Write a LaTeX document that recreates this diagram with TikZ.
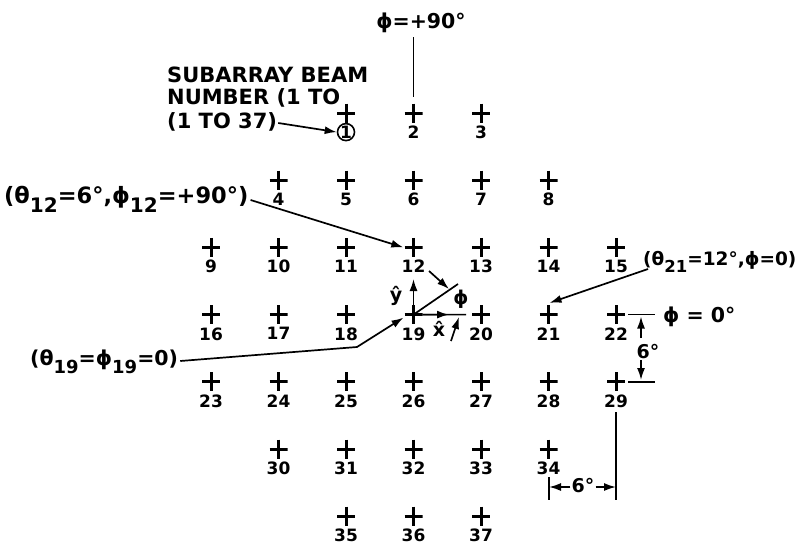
\documentclass[tikz,border=0pt]{standalone}
\usepackage{fontspec}
\setmainfont{DejaVu Sans}
\usetikzlibrary{arrows.meta,calc}
\newcommand\lo[2][18]{\raisebox{-0.42em}{\fontsize{#1}{#1}\selectfont #2}}
\begin{document}
\begin{tikzpicture}[x=1pt,y=-1pt,
  cross/.style={minimum width=18pt,minimum height=19pt,inner sep=0pt,
    path picture={\draw[line width=3pt] (path picture bounding box.north)--(path picture bounding box.south)
      (path picture bounding box.west)--(path picture bounding box.east);}},
  num/.style={font=\fontsize{17}{17}\selectfont\bfseries,inner sep=0pt},
  lab/.style={font=\fontsize{20.5}{20.5}\selectfont\bfseries,inner sep=1pt},
  big/.style={font=\fontsize{21}{21}\selectfont\bfseries,inner sep=1pt,anchor=base west},
  sm/.style={font=\fontsize{19}{19}\selectfont\bfseries,inner sep=1pt},
  ld/.style={line width=1.7pt},
  arr/.style={ld,-{Latex[length=12pt,width=8pt]}}]
\useasboundingbox[fill=white] (0,0) rectangle (800,546);

% grid of beam positions
\foreach \n/\c/\r in {1/3/1,2/4/1,3/5/1,
  4/2/2,5/3/2,6/4/2,7/5/2,8/6/2,
  9/1/3,10/2/3,11/3/3,12/4/3,13/5/3,14/6/3,15/7/3,
  16/1/4,17/2/4,18/3/4,19/4/4,20/5/4,21/6/4,22/7/4,
  23/1/5,24/2/5,25/3/5,26/4/5,27/5/5,28/6/5,29/7/5,
  30/2/6,31/3/6,32/4/6,33/5/6,34/6/6,
  35/3/7,36/4/7,37/5/7}{
  \node[cross] (c\n) at ({211+(\c-1)*67.5},{113+(\r-1)*67.2}) {};
  \node[num,anchor=north] (l\n) at ([yshift=-3pt]c\n.south) {\n};
}
\node[circle,draw,line width=1.6pt,minimum size=17pt,inner sep=0pt] (ring) at (l1) {};

% subarray label
\node[big] (sub1) at (166,82) {SUBARRAY BEAM};
\node[big] (sub2) at (166,104) {NUMBER (1 TO};
\node[big] (sub3) at (166,128) {(1 TO 37)};
\draw[arr] ([yshift=5pt]sub3.base east) -- (ring.west);

% phi = +90
\node[lab,anchor=base] (p90) at (421,28) {ϕ=+90°};
\draw[ld] (p90.south -| c2) ++(0,4) -- ([yshift=6pt]c2.north);

% theta12 label
\node[lab,font=\fontsize{22.5}{22.5}\selectfont\bfseries,anchor=base west] (t12) at (3,203) {(θ\lo[20]{12}=6°,ϕ\lo[20]{12}=+90°)};
\draw[arr] ([xshift=1pt,yshift=3pt]t12.base east) -- ([xshift=-1pt]c12.west);

% theta21 label
\node[lab,font=\fontsize{18.5}{18.5}\selectfont\bfseries,anchor=base west] (t21) at (642,265) {(θ\lo[16.5]{21}=12°,ϕ=0)};
\draw[arr] ([xshift=6pt,yshift=-4pt]t21.base west) -- ([xshift=1pt,yshift=2pt]c21.north);

% theta19 label
\node[lab,anchor=base west] (t19) at (29,365) {(θ\lo{19}=ϕ\lo{19}=0)};
\coordinate (bend19) at (357,347);
\draw[arr] ([xshift=1pt,yshift=4pt]t19.base east) -- (bend19) -- ([xshift=-10pt,yshift=-3pt]c19.center);

% local axes at beam 19
\coordinate (dg) at (458,284);
\draw[ld] (c19.center) -- (dg);
\coordinate (xe) at (466,314.6);
\draw[ld] (c19.east) -- (xe);
\coordinate (xt) at (449,314.6);
\draw[arr] (c19.east) -- (xt);
\coordinate (yt) at (413.5,279);
\draw[arr] (c19.north) -- (yt);
\node[sm,anchor=base] (yh) at (396,301) {\^{y}};
\node[sm,anchor=base] (xh) at (439,336) {\^{x}};
\node[sm] (ph) at (461,299) {ϕ};
\coordinate (a1s) at (429,271); \coordinate (a1e) at (449,289);
\draw[arr] (a1s) -- (a1e);
\coordinate (a2s) at (451,341); \coordinate (a2e) at (459,317);
\draw[arr] (a2s) -- (a2e);

% vertical 6 degree dimension
\coordinate (tk1) at (628,314.6); \coordinate (tk1e) at (655,314.6);
\coordinate (tk2) at (628,381.8); \coordinate (tk2e) at (655,381.8);
\draw[ld] (tk1) -- (tk1e);
\draw[ld] (tk2) -- (tk2e);
\node[sm,anchor=base] (d6v) at (648,358) {6°};
\coordinate (va) at (641,338); \coordinate (vat) at (641,316.5);
\coordinate (vb) at (641,360); \coordinate (vbt) at (641,380);
\draw[arr] (va) -- (vat);
\draw[arr] (vb) -- (vbt);
\node[lab,anchor=base west] (p0) at (662,322) {ϕ = 0°};

% horizontal 6 degree dimension
\coordinate (bl1) at (616,412); \coordinate (bl2) at (616,500);
\coordinate (bl3) at (549,477); \coordinate (bl4) at (549,500);
\draw[ld] (bl1) -- (bl2);
\draw[ld] (bl3) -- (bl4);
\node[sm,anchor=base] (d6h) at (583,492) {6°};
\coordinate (ha) at (549,487); \coordinate (hb) at (616,487);
\draw[arr] (d6h.west |- ha) -- (ha);
\draw[arr] (d6h.east |- hb) -- (hb);
\end{tikzpicture}
\end{document}
